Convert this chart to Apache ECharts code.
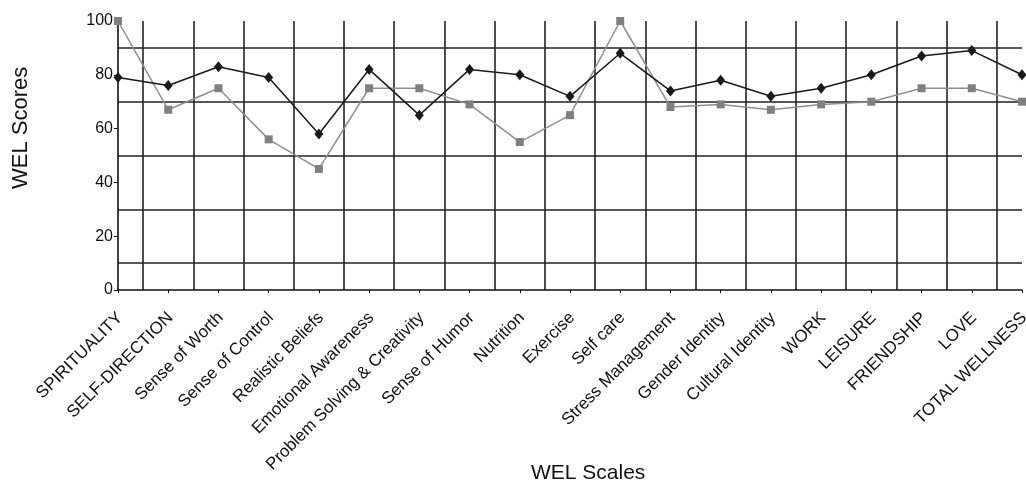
<!DOCTYPE html>
<html>
<head>
<meta charset="utf-8">
<script src="https://cdn.jsdelivr.net/npm/echarts@6/dist/echarts.min.js"></script>
<style>html,body{margin:0;padding:0;background:#fff;}#c{width:1026px;height:484px;}</style>
</head>
<body>
<div id="c"></div>
<script>
const categories = ["SPIRITUALITY","SELF-DIRECTION","Sense of Worth","Sense of Control","Realistic Beliefs","Emotional Awareness","Problem Solving & Creativity","Sense of Humor","Nutrition","Exercise","Self care","Stress Management","Gender Identity","Cultural Identity","WORK","LEISURE","FRIENDSHIP","LOVE","TOTAL WELLNESS"];
const seriesDark = [79,76,83,79,58,82,65,82,80,72,88,74,78,72,75,80,87,89,80];
const seriesGray = [100,67,75,56,45,75,75,69,55,65,100,68,69,67,69,70,75,75,70];
const yMin = 0, yMax = 100, yStep = 20;
const xTitle = "WEL Scales";
const yTitle = "WEL Scores";

// helper axes for grid lines (between categories / odd tens)
const halfSteps = Array.from({length: categories.length * 2 - 1}, (_, i) => String(i));
const tenSteps = Array.from({length: (yMax - yMin) / 10 + 1}, (_, i) => String(yMin + i * 10));

const FONT = '"Liberation Sans", Arial, Helvetica, sans-serif';
const chart = echarts.init(document.getElementById('c'), null, {renderer: 'canvas'});
chart.setOption({
  animation: false,
  backgroundColor: '#ffffff',
  grid: {left: 118, right: 4, top: 21, bottom: 194, containLabel: false, outerBoundsMode: 'none'},
  xAxis: [{
    type: 'category', data: categories, boundaryGap: false,
    axisLine: {show: true, lineStyle: {color: '#111', width: 1.5}},
    axisTick: {show: true, inside: false, length: 3, lineStyle: {color: '#111', width: 1}},
    axisLabel: {rotate: 45, interval: 0, margin: 23, align: 'right', verticalAlign: 'top', lineHeight: 6,
      color: '#111', fontFamily: FONT, fontSize: 17},
    splitLine: {show: false}
  }, {
    type: 'category', data: halfSteps, boundaryGap: false, position: 'bottom',
    axisLine: {show: false}, axisTick: {show: false}, axisLabel: {show: false},
    splitLine: {show: true, interval: (i) => i % 2 === 1, lineStyle: {color: '#222', width: 1.6}}
  }],
  yAxis: [{
    type: 'value', min: yMin, max: yMax, interval: yStep,
    axisLine: {show: true, lineStyle: {color: '#111', width: 1.6}},
    axisTick: {show: true, length: 4, lineStyle: {color: '#111'}},
    axisLabel: {color: '#111', fontFamily: FONT, fontSize: 16, margin: 5},
    splitLine: {show: false}
  }, {
    type: 'category', data: tenSteps, boundaryGap: false, position: 'left',
    axisLine: {show: false}, axisTick: {show: false}, axisLabel: {show: false},
    splitLine: {show: true, interval: (i) => i % 2 === 1, lineStyle: {color: '#222', width: 1.6}}
  }],
  graphic: [
    {type: 'text', left: 531, top: 463, style: {text: xTitle, font: '21px ' + FONT, fill: '#111'}},
    {type: 'text', x: 10, y: 189, rotation: Math.PI / 2, style: {text: yTitle, font: '22px ' + FONT, fill: '#111'}}
  ],
  series: [{
    type: 'line', name: 'dark', data: seriesDark, xAxisIndex: 0, yAxisIndex: 0,
    symbol: 'diamond', symbolSize: [9, 11], clip: false, z: 4,
    lineStyle: {color: '#1a1a1a', width: 1.5}, itemStyle: {color: '#1a1a1a'}
  }, {
    type: 'line', name: 'gray', data: seriesGray, xAxisIndex: 0, yAxisIndex: 0,
    symbol: 'rect', symbolSize: 8, clip: false, z: 3,
    lineStyle: {color: '#8f8f8f', width: 1.5}, itemStyle: {color: '#808080'}
  }]
});
</script>
</body>
</html>
